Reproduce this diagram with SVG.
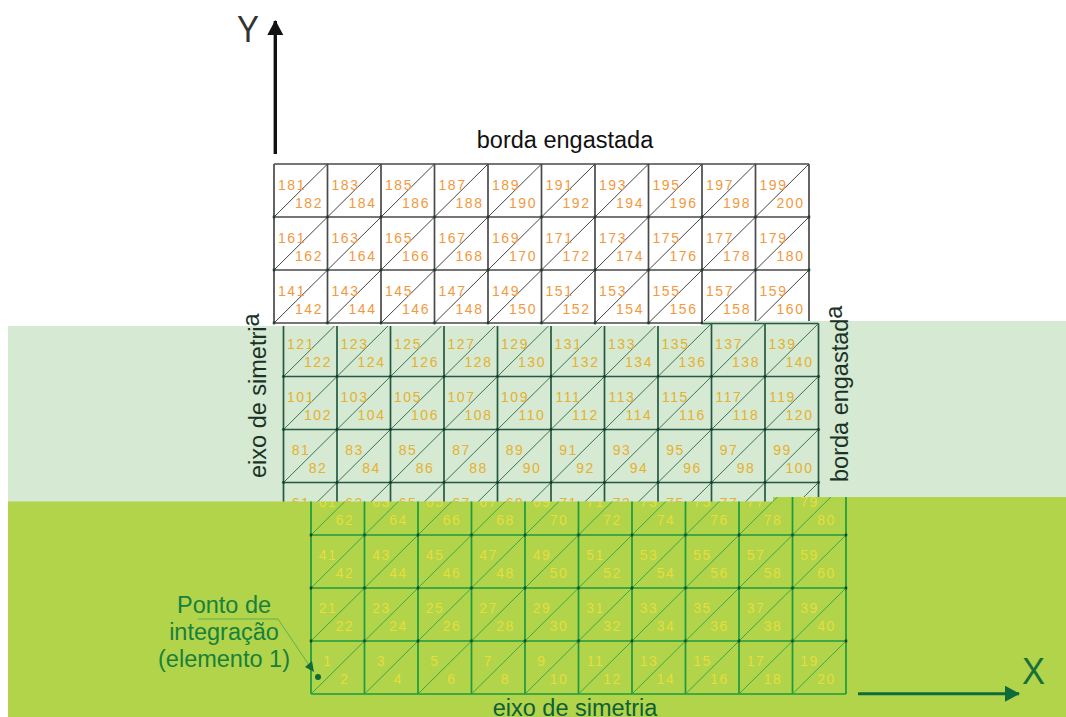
<svg xmlns="http://www.w3.org/2000/svg" width="1066" height="717" viewBox="0 0 1066 717">
<style>
.cap{font-family:"Liberation Sans",Arial,sans-serif;font-size:23.5px}
.axis{font-family:"Liberation Sans",Arial,sans-serif;font-size:36px}
.num text{font-family:"Liberation Sans",Arial,sans-serif;font-size:14px;letter-spacing:1.5px;text-anchor:middle}
.t text{fill:#f2993e}.m text{fill:#e6b12c}.b text{fill:#e7dd3c}
.grid{fill:none;stroke-width:1.7}.diag{fill:none;stroke-width:1}
.t .grid{stroke:#4a4a4a}.t .diag{stroke:#444}
.m .grid{stroke:#245a41}.m .diag{stroke:#3a7458}
.b .grid{stroke:#1c9a3e}.b .diag{stroke:#37a948}
</style>
<defs>
<path id="g3" d="M0 0h535M0 53h535M0 106h535M0 159h535M0 0v159M53.5 0v159M107 0v159M160.500 0v159M214 0v159M267.500 0v159M321 0v159M374.500 0v159M428 0v159M481.500 0v159M535 0v159"/>
<path id="g4" d="M0 0h535M0 53h535M0 106h535M0 159h535M0 212h535M0 0v212M53.500 0v212M107 0v212M160.500 0v212M214 0v212M267.500 0v212M321 0v212M374.500 0v212M428 0v212M481.500 0v212M535 0v212"/>
<path id="d" d="M0 53l53.500-53m0 53l53.500-53m0 53l53.500-53m0 53l53.500-53m0 53l53.500-53m0 53l53.500-53m0 53l53.500-53m0 53l53.500-53m0 53l53.500-53m0 53l53.500-53"/>
<pattern id="dots" patternUnits="userSpaceOnUse" x="-26.75" y="-26.5" width="53.5" height="53"><circle cx="26.75" cy="26.5" r="1.4" fill="#163a28"/></pattern>
<clipPath id="midclip"><path d="M8 326H703V321H1066V502H8Z"/></clipPath>
<clipPath id="botclip"><path d="M8 501.500H773V497H1066V717H8Z"/></clipPath>
<marker id="arr" markerUnits="userSpaceOnUse" markerWidth="16" markerHeight="18" refX="14" refY="8" orient="auto"><path d="M0 0L15 8L0 16Z" fill="context-stroke"/></marker>
</defs>

<g id="mesh-top" class="t num">
<use href="#g3" class="grid" transform="translate(274,164)"/>
<use href="#d" class="diag" transform="translate(274,164)"/>
<use href="#d" class="diag" transform="translate(274,217)"/>
<use href="#d" class="diag" transform="translate(274,270)"/>
<rect x="-2" y="51" width="539" height="110" fill="url(#dots)" transform="translate(274,164)"/>
<g transform="translate(274,164)"><text x="18" y="26">181</text><text x="35" y="44">182</text><text x="71.500" y="26">183</text><text x="88.500" y="44">184</text><text x="125" y="26">185</text><text x="142" y="44">186</text><text x="178.500" y="26">187</text><text x="195.500" y="44">188</text><text x="232" y="26">189</text><text x="249" y="44">190</text><text x="285.500" y="26">191</text><text x="302.500" y="44">192</text><text x="339" y="26">193</text><text x="356" y="44">194</text><text x="392.500" y="26">195</text><text x="409.500" y="44">196</text><text x="446" y="26">197</text><text x="463" y="44">198</text><text x="499.500" y="26">199</text><text x="516.500" y="44">200</text></g>
<g transform="translate(274,217)"><text x="18" y="26">161</text><text x="35" y="44">162</text><text x="71.500" y="26">163</text><text x="88.500" y="44">164</text><text x="125" y="26">165</text><text x="142" y="44">166</text><text x="178.500" y="26">167</text><text x="195.500" y="44">168</text><text x="232" y="26">169</text><text x="249" y="44">170</text><text x="285.500" y="26">171</text><text x="302.500" y="44">172</text><text x="339" y="26">173</text><text x="356" y="44">174</text><text x="392.500" y="26">175</text><text x="409.500" y="44">176</text><text x="446" y="26">177</text><text x="463" y="44">178</text><text x="499.500" y="26">179</text><text x="516.500" y="44">180</text></g>
<g transform="translate(274,270)"><text x="18" y="26">141</text><text x="35" y="44">142</text><text x="71.500" y="26">143</text><text x="88.500" y="44">144</text><text x="125" y="26">145</text><text x="142" y="44">146</text><text x="178.500" y="26">147</text><text x="195.500" y="44">148</text><text x="232" y="26">149</text><text x="249" y="44">150</text><text x="285.500" y="26">151</text><text x="302.500" y="44">152</text><text x="339" y="26">153</text><text x="356" y="44">154</text><text x="392.500" y="26">155</text><text x="409.500" y="44">156</text><text x="446" y="26">157</text><text x="463" y="44">158</text><text x="499.500" y="26">159</text><text x="516.500" y="44">160</text></g>
</g>

<path id="band-mid" d="M8 326H703V321H1066V502H8Z" fill="#d5e9d3"/>

<g id="mesh-mid" class="m num" clip-path="url(#midclip)">
<use href="#g4" class="grid" transform="translate(283.500,323.500)"/>
<use href="#d" class="diag" transform="translate(283.500,323.500)"/>
<use href="#d" class="diag" transform="translate(283.500,376.500)"/>
<use href="#d" class="diag" transform="translate(283.500,429.500)"/>
<use href="#d" class="diag" transform="translate(283.500,482.500)"/>
<rect x="-2" y="51" width="539" height="110" fill="url(#dots)" transform="translate(283.500,323.500)"/>
<g transform="translate(283.500,323.500)"><text x="17.500" y="25">121</text><text x="34.500" y="43">122</text><text x="71" y="25">123</text><text x="88" y="43">124</text><text x="124.500" y="25">125</text><text x="141.500" y="43">126</text><text x="178" y="25">127</text><text x="195" y="43">128</text><text x="231.500" y="25">129</text><text x="248.500" y="43">130</text><text x="285" y="25">131</text><text x="302" y="43">132</text><text x="338.500" y="25">133</text><text x="355.500" y="43">134</text><text x="392" y="25">135</text><text x="409" y="43">136</text><text x="445.500" y="25">137</text><text x="462.500" y="43">138</text><text x="499" y="25">139</text><text x="516" y="43">140</text></g>
<g transform="translate(283.500,376.500)"><text x="17.500" y="25">101</text><text x="34.500" y="43">102</text><text x="71" y="25">103</text><text x="88" y="43">104</text><text x="124.500" y="25">105</text><text x="141.500" y="43">106</text><text x="178" y="25">107</text><text x="195" y="43">108</text><text x="231.500" y="25">109</text><text x="248.500" y="43">110</text><text x="285" y="25">111</text><text x="302" y="43">112</text><text x="338.500" y="25">113</text><text x="355.500" y="43">114</text><text x="392" y="25">115</text><text x="409" y="43">116</text><text x="445.500" y="25">117</text><text x="462.500" y="43">118</text><text x="499" y="25">119</text><text x="516" y="43">120</text></g>
<g transform="translate(283.500,429.500)"><text x="17.500" y="25">81</text><text x="34.500" y="43">82</text><text x="71" y="25">83</text><text x="88" y="43">84</text><text x="124.500" y="25">85</text><text x="141.500" y="43">86</text><text x="178" y="25">87</text><text x="195" y="43">88</text><text x="231.500" y="25">89</text><text x="248.500" y="43">90</text><text x="285" y="25">91</text><text x="302" y="43">92</text><text x="338.500" y="25">93</text><text x="355.500" y="43">94</text><text x="392" y="25">95</text><text x="409" y="43">96</text><text x="445.500" y="25">97</text><text x="462.500" y="43">98</text><text x="499" y="25">99</text><text x="516" y="43">100</text></g>
<g transform="translate(283.500,482.500)"><text x="17.500" y="25">61</text><text x="71" y="25">63</text><text x="124.500" y="25">65</text><text x="178" y="25">67</text><text x="231.500" y="25">69</text><text x="285" y="25">71</text><text x="338.500" y="25">73</text><text x="392" y="25">75</text><text x="445.500" y="25">77</text><text x="499" y="25">79</text></g>
</g>

<path id="band-bottom" d="M8 501.500H773V497H1066V717H8Z" fill="#b1d44b"/>

<g id="mesh-bottom" class="b num" clip-path="url(#botclip)">
<use href="#g4" class="grid" transform="translate(311,482)"/>
<use href="#d" class="diag" transform="translate(311,482)"/>
<use href="#d" class="diag" transform="translate(311,535)"/>
<use href="#d" class="diag" transform="translate(311,588)"/>
<use href="#d" class="diag" transform="translate(311,641)"/>
<rect x="-2" y="51" width="539" height="110" fill="url(#dots)" transform="translate(311,482)"/>
<g transform="translate(311,482)"><text x="17" y="25">61</text><text x="34" y="43">62</text><text x="70.500" y="25">63</text><text x="87.500" y="43">64</text><text x="124" y="25">65</text><text x="141" y="43">66</text><text x="177.500" y="25">67</text><text x="194.500" y="43">68</text><text x="231" y="25">69</text><text x="248" y="43">70</text><text x="284.500" y="25">71</text><text x="301.500" y="43">72</text><text x="338" y="25">73</text><text x="355" y="43">74</text><text x="391.500" y="25">75</text><text x="408.500" y="43">76</text><text x="445" y="25">77</text><text x="462" y="43">78</text><text x="498.500" y="25">79</text><text x="515.500" y="43">80</text></g>
<g transform="translate(311,535)"><text x="17" y="25">41</text><text x="34" y="43">42</text><text x="70.500" y="25">43</text><text x="87.500" y="43">44</text><text x="124" y="25">45</text><text x="141" y="43">46</text><text x="177.500" y="25">47</text><text x="194.500" y="43">48</text><text x="231" y="25">49</text><text x="248" y="43">50</text><text x="284.500" y="25">51</text><text x="301.500" y="43">52</text><text x="338" y="25">53</text><text x="355" y="43">54</text><text x="391.500" y="25">55</text><text x="408.500" y="43">56</text><text x="445" y="25">57</text><text x="462" y="43">58</text><text x="498.500" y="25">59</text><text x="515.500" y="43">60</text></g>
<g transform="translate(311,588)"><text x="17" y="25">21</text><text x="34" y="43">22</text><text x="70.500" y="25">23</text><text x="87.500" y="43">24</text><text x="124" y="25">25</text><text x="141" y="43">26</text><text x="177.500" y="25">27</text><text x="194.500" y="43">28</text><text x="231" y="25">29</text><text x="248" y="43">30</text><text x="284.500" y="25">31</text><text x="301.500" y="43">32</text><text x="338" y="25">33</text><text x="355" y="43">34</text><text x="391.500" y="25">35</text><text x="408.500" y="43">36</text><text x="445" y="25">37</text><text x="462" y="43">38</text><text x="498.500" y="25">39</text><text x="515.500" y="43">40</text></g>
<g transform="translate(311,641)"><text x="17" y="25">1</text><text x="34" y="43">2</text><text x="70.500" y="25">3</text><text x="87.500" y="43">4</text><text x="124" y="25">5</text><text x="141" y="43">6</text><text x="177.500" y="25">7</text><text x="194.500" y="43">8</text><text x="231" y="25">9</text><text x="248" y="43">10</text><text x="284.500" y="25">11</text><text x="301.500" y="43">12</text><text x="338" y="25">13</text><text x="355" y="43">14</text><text x="391.500" y="25">15</text><text x="408.500" y="43">16</text><text x="445" y="25">17</text><text x="462" y="43">18</text><text x="498.500" y="25">19</text><text x="515.500" y="43">20</text></g>
</g>

<g id="connectors" fill="none">
<path d="M275.300 154V21" stroke="#111" stroke-width="3.400" marker-end="url(#arr)"/>
<path d="M858 693.700H1019" stroke="#0f6b3a" stroke-width="3" marker-end="url(#arr)"/>
<path d="M198 619H278L309 665" stroke="#4aa84f" stroke-width=".8"/>
<path d="M305 667L312 661L314 672Z" fill="#0f6b3a"/>
</g>

<g id="labels">
<text class="axis" x="237" y="42" fill="#333" textLength="22" lengthAdjust="spacingAndGlyphs">Y</text>
<text class="axis" x="1022" y="684" fill="#17703a" textLength="23" lengthAdjust="spacingAndGlyphs">X</text>
<text class="cap" x="565" y="148" text-anchor="middle" fill="#111">borda engastada</text>
<text class="cap" transform="translate(266,478) rotate(-90)" fill="#1a3326">eixo de simetri<tspan dy="-7">a</tspan></text>
<text class="cap" transform="translate(848,482) rotate(-90)" fill="#1a3326">borda engastad<tspan dy="-6">a</tspan></text>
<text class="cap" x="575" y="716" text-anchor="middle" fill="#0d5f38">eixo de simetria</text>
<text class="cap" x="224" y="613" text-anchor="middle" fill="#17803c">Ponto de</text>
<text class="cap" x="224" y="640" text-anchor="middle" fill="#17803c">integração</text>
<text class="cap" x="224" y="667" text-anchor="middle" fill="#17803c">(elemento 1)</text>
<circle id="ponto" cx="318" cy="677" r="3" fill="#0a6b35"/>
</g>
</svg>
